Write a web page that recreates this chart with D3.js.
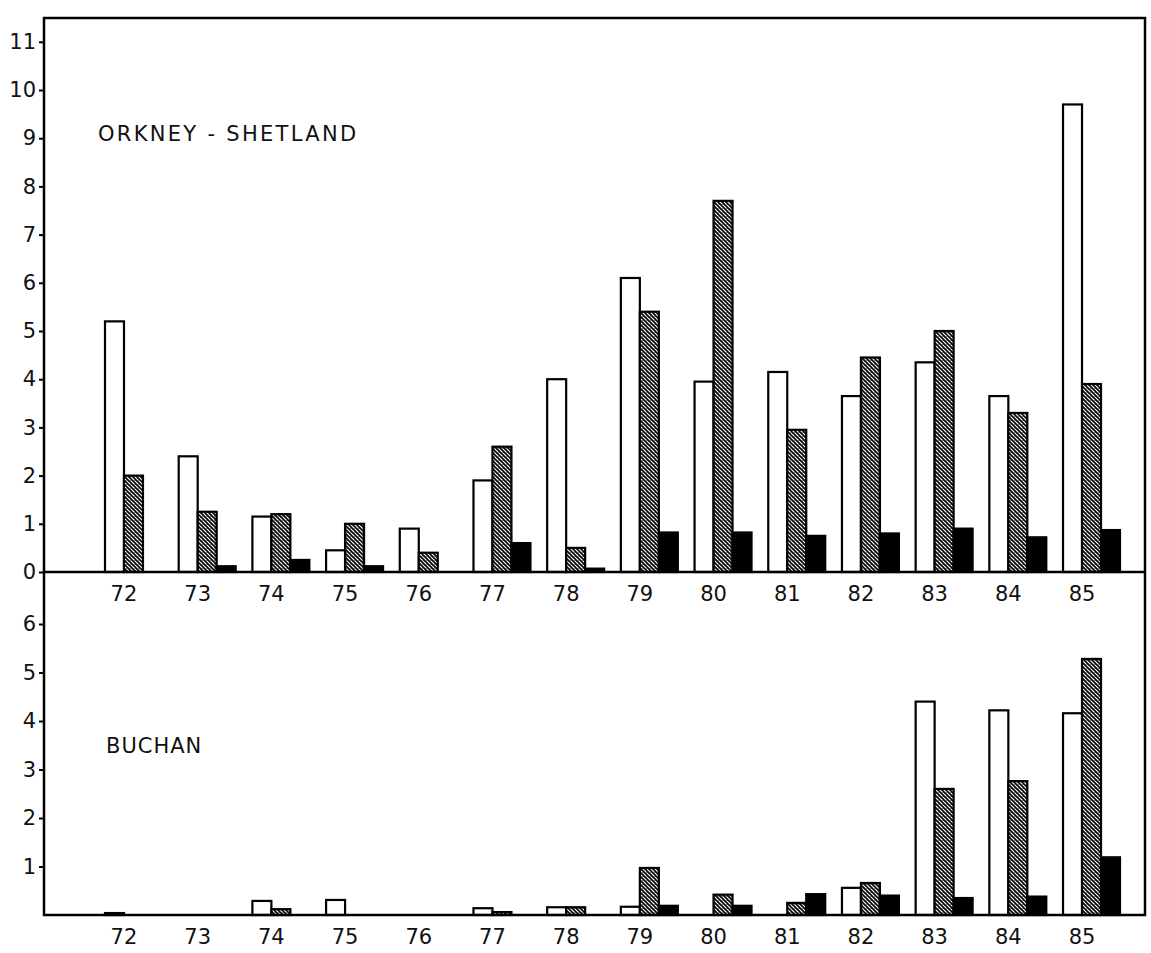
<!DOCTYPE html>
<html>
<head>
<meta charset="utf-8">
<script src="https://cdn.jsdelivr.net/npm/d3@7"></script>
<style>
  body { margin: 0; background: #fff; }
  text { font-family: "DejaVu Sans", sans-serif; fill: #111; }
</style>
</head>
<body>
<div id="chart"></div>
<script>
// years along the x axis
const years = ["72", "73", "74", "75", "76", "77", "78", "79", "80", "81", "82", "83", "84", "85"];
const series = ["open", "shaded", "solid"];

// Orkney - Shetland (top panel)
const orkneyOpen   = [5.2, 2.4, 1.15, 0.45, 0.9, 1.9, 4.0, 6.1, 3.95, 4.15, 3.65, 4.35, 3.65, 9.7];
const orkneyShaded = [2.0, 1.25, 1.2, 1.0, 0.4, 2.6, 0.5, 5.4, 7.7, 2.95, 4.45, 5.0, 3.3, 3.9];
const orkneySolid  = [0, 0.12, 0.25, 0.12, 0, 0.6, 0.07, 0.82, 0.82, 0.75, 0.8, 0.9, 0.72, 0.87];

// Buchan (bottom panel)
const buchanOpen   = [0.04, 0, 0.29, 0.31, 0, 0.14, 0.16, 0.17, 0, 0, 0.56, 4.4, 4.22, 4.16];
const buchanShaded = [0, 0, 0.12, 0, 0, 0.06, 0.16, 0.97, 0.42, 0.25, 0.66, 2.6, 2.76, 5.28];
const buchanSolid  = [0, 0, 0, 0, 0, 0, 0, 0.19, 0.19, 0.43, 0.4, 0.35, 0.38, 1.19];

const topTicks = d3.range(0, 12);
const bottomTicks = [1, 2, 3, 4, 5, 6];

const width = 1151, height = 953;
const frameLeft = 44, frameRight = 1145, frameTop = 18, frameMid = 572, frameBottom = 915;

const svg = d3.select("#chart").append("svg")
    .attr("width", width)
    .attr("height", height);

// hatch pattern for the shaded bars
const pat = svg.append("defs").append("pattern")
    .attr("id", "hatch")
    .attr("patternUnits", "userSpaceOnUse")
    .attr("width", 4).attr("height", 4);
pat.append("rect").attr("width", 4).attr("height", 4).attr("fill", "#fff");
pat.append("path")
    .attr("d", "M-1,-1 L5,5 M-1,3 L1,5 M3,-1 L5,1")
    .attr("stroke", "#000").attr("stroke-width", 1.6);
pat.append("rect").attr("x", 2.5).attr("y", 0).attr("width", 1).attr("height", 1).attr("fill", "#333");

const fills = { open: "#fff", shaded: "url(#hatch)", solid: "#000" };

const x = d3.scaleBand().domain(years).range([105, 1120]).paddingInner(0.227).paddingOuter(0);
const xs = d3.scaleBand().domain(series).range([0, x.bandwidth()]);

const yTop = d3.scaleLinear().domain([0, 11]).range([frameMid, frameMid - 11 * 48.2]);
const yBot = d3.scaleLinear().domain([0, 6]).range([frameBottom, frameBottom - 6 * 48.5]);

function panel(y, data, ticks, title, titleX, titleValue, spacing) {
    const g = svg.append("g");
    series.forEach(function (s, si) {
        const vals = data[si];
        g.selectAll(null)
            .data(years.map((yr, i) => ({ year: yr, v: vals[i] })).filter(d => d.v > 0))
            .enter().append("rect")
            .attr("x", d => x(d.year) + xs(s))
            .attr("y", d => y(d.v))
            .attr("width", xs.bandwidth())
            .attr("height", d => y(0) - y(d.v))
            .attr("fill", fills[s])
            .attr("stroke", "#000")
            .attr("stroke-width", 2.2);
    });

    const axis = svg.append("g")
        .attr("transform", `translate(${frameLeft},0)`)
        .call(d3.axisLeft(y).tickValues(ticks).tickSize(5).tickPadding(3).tickFormat(d3.format("d")));
    axis.select(".domain").remove();
    axis.selectAll(".tick line").attr("stroke", "#000").attr("stroke-width", 2);
    axis.selectAll(".tick text").style("font-size", "21px").style("font-family", "DejaVu Sans").attr("fill", "#111");

    svg.append("g").selectAll("text")
        .data(years)
        .enter().append("text")
        .attr("x", d => x(d) + xs.bandwidth())
        .attr("y", y(0) + 29)
        .attr("text-anchor", "middle")
        .style("font-size", "21px")
        .text(d => d);

    svg.append("text")
        .attr("x", titleX)
        .attr("y", y(titleValue))
        .style("font-size", "21px")
        .style("letter-spacing", spacing + "px")
        .text(title);
}

panel(yTop, [orkneyOpen, orkneyShaded, orkneySolid], topTicks, "ORKNEY - SHETLAND", 98, 8.95, 2.3);
panel(yBot, [buchanOpen, buchanShaded, buchanSolid], bottomTicks, "BUCHAN", 106, 3.35, 1);

// frame and the shared middle baseline
svg.append("rect")
    .attr("x", frameLeft).attr("y", frameTop)
    .attr("width", frameRight - frameLeft).attr("height", frameBottom - frameTop)
    .attr("fill", "none").attr("stroke", "#000").attr("stroke-width", 2.5);
svg.append("line")
    .attr("x1", frameLeft).attr("x2", frameRight)
    .attr("y1", frameMid).attr("y2", frameMid)
    .attr("stroke", "#000").attr("stroke-width", 2.5);
</script>
</body>
</html>
